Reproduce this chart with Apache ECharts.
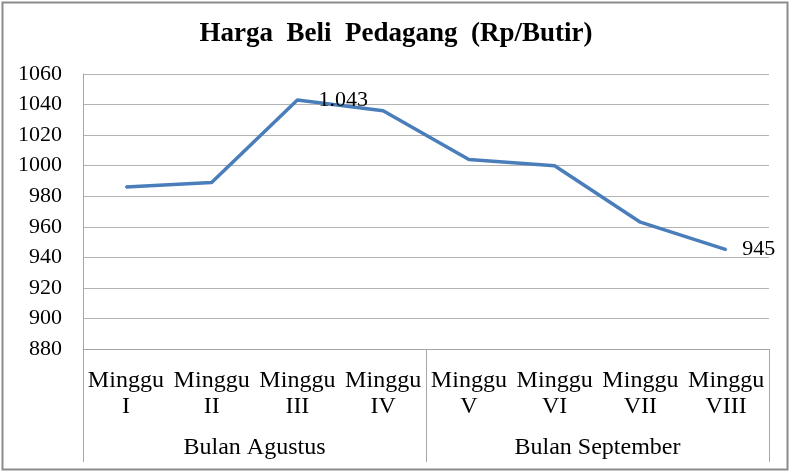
<!DOCTYPE html>
<html>
<head>
<meta charset="utf-8">
<script src="https://cdn.jsdelivr.net/npm/echarts@6/dist/echarts.min.js"></script>
<style>
  html, body { margin: 0; padding: 0; background: #fff; }
  #main { width: 792px; height: 472px; }
</style>
</head>
<body>
<div id="main"></div>
<script>
var weeks = ['Minggu\nI', 'Minggu\nII', 'Minggu\nIII', 'Minggu\nIV', 'Minggu\nV', 'Minggu\nVI', 'Minggu\nVII', 'Minggu\nVIII']
var months = ['Bulan Agustus', 'Bulan September']
var harga = [986, 989, 1043, 1036, 1004, 1000, 963, 945]
// only these points get a value label
var labelled = [2, 7]

var font = '"Liberation Serif", "Times New Roman", serif'

var chart = echarts.init(document.getElementById('main'))
chart.setOption({
    backgroundColor: '#ffffff',
    animation: false,
    title: {
        text: 'Harga  Beli  Pedagang  (Rp/Butir)',
        left: 'center',
        top: 16,
        textStyle: {
            fontFamily: font,
            fontWeight: 'bold',
            fontSize: 27,
            color: '#000'
        }
    },
    graphic: [{
        type: 'rect',
        shape: { x: 2.5, y: 2.5, width: 785, height: 467 },
        style: { fill: 'none', stroke: '#8c8c8c', lineWidth: 2 }
    }],
    grid: {
        left: 83,
        right: 23,
        top: 74,
        bottom: 123
    },
    xAxis: [{
        type: 'category',
        data: weeks,
        position: 'bottom',
        axisLine: { lineStyle: { color: '#a6a6a6', width: 1 } },
        axisTick: { show: false },
        axisLabel: {
            interval: 0,
            margin: 19,
            fontFamily: font,
            fontSize: 24,
            lineHeight: 26,
            color: '#000'
        }
    }, {
        type: 'category',
        data: months,
        position: 'bottom',
        axisLine: { show: false },
        axisTick: {
            show: true,
            length: 113,
            lineStyle: { color: '#a6a6a6' }
        },
        axisLabel: {
            interval: 0,
            margin: 86,
            fontFamily: font,
            fontSize: 24,
            lineHeight: 26,
            color: '#000'
        }
    }],
    yAxis: {
        type: 'value',
        min: 880,
        max: 1060,
        interval: 20,
        axisLine: { show: true, lineStyle: { color: '#a6a6a6' } },
        axisTick: { show: false },
        axisLabel: {
            margin: 21,
            fontFamily: font,
            fontSize: 22,
            color: '#000',
            formatter: function (v) { return String(v) }
        },
        splitLine: { lineStyle: { color: '#b3b3b3', width: 1 } }
    },
    series: [{
        type: 'line',
        xAxisIndex: 0,
        symbol: 'circle',
        symbolSize: 2,
        showSymbol: true,
        itemStyle: { color: '#4a7ebb' },
        lineStyle: { color: '#4a7ebb', width: 3.5 },
        data: harga.map(function (v, i) {
            if (labelled.indexOf(i) < 0) return v
            return {
                value: v,
                label: {
                    show: true,
                    position: 'right',
                    distance: i === 2 ? 20 : 15,
                    fontFamily: font,
                    fontSize: 22,
                    color: '#000',
                    formatter: function (p) {
                        return String(p.value).replace(/\B(?=(\d{3})+(?!\d))/g, '.')
                    }
                }
            }
        })
    }]
})
</script>
</body>
</html>
